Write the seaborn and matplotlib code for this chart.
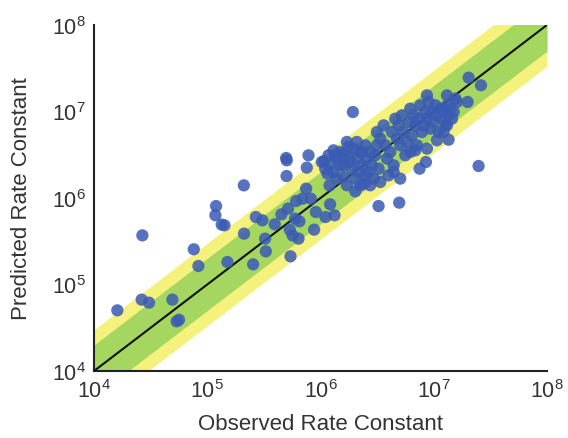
import numpy as np
import pandas as pd
import matplotlib
matplotlib.use("Agg")
import matplotlib.pyplot as plt
import seaborn as sns

# log10 of observed / predicted rate constants
obs_log = [
    4.206, 4.421, 4.486, 4.427, 4.692, 4.730, 4.751, 4.881, 4.922, 5.078,
    5.072, 5.128, 5.152, 5.178, 5.323, 5.325, 5.405, 5.429, 5.487, 5.511,
    5.517, 5.596, 5.655, 5.697, 5.702, 5.700, 5.714, 5.735, 5.729, 5.753,
    5.776, 5.785, 5.806, 5.814, 5.841, 5.879, 5.894, 5.873, 5.915, 5.944,
    5.959, 6.044, 6.085, 6.124, 6.032, 6.062, 6.080,
    # cluster around 1e6 - 3e6
    6.012, 6.042, 6.071, 6.115, 6.145, 6.174, 6.204, 6.233, 6.248, 6.277,
    6.292, 6.307, 6.321, 6.336, 6.351, 6.366, 6.380, 6.395, 6.410, 6.425,
    6.439, 6.454, 6.469, 6.483, 6.498, 6.513, 6.528, 6.115, 6.145, 6.204,
    6.233, 6.307, 6.351, 6.395, 6.263, 6.174, 6.086, 6.130, 6.204, 6.248,
    6.321, 6.366,
    # cluster around 3e6 - 1.5e7
    6.498, 6.528, 6.557, 6.572, 6.587, 6.616, 6.631, 6.646, 6.660, 6.675,
    6.690, 6.704, 6.719, 6.734, 6.749, 6.763, 6.778, 6.793, 6.808, 6.822,
    6.837, 6.852, 6.866, 6.881, 6.896, 6.911, 6.925, 6.940, 6.955, 6.970,
    6.984, 6.999, 7.014, 7.028, 7.043, 7.058, 7.073, 7.087, 7.102, 7.117,
    7.132, 7.146, 7.161, 7.176, 7.191, 7.205, 6.704, 6.601, 6.439, 6.646,
    6.793, 6.837, 6.940, 7.117, 7.087,
    # outliers
    6.286, 6.513, 6.695, 6.875, 6.931, 7.396, 7.308, 7.417, 7.299, 7.131,
    7.028, 7.117, 6.940,
]
pred_log = [
    4.701, 4.825, 4.790, 5.568, 4.825, 4.574, 4.593, 5.407, 5.214, 5.907,
    5.800, 5.692, 5.684, 5.260, 6.146, 5.588, 5.233, 5.780, 5.742, 5.530,
    5.383, 5.696, 5.811, 6.462, 6.435, 6.254, 5.877, 5.326, 5.634, 5.568,
    5.761, 5.965, 5.530, 5.730, 5.992, 6.351, 6.493, 6.108, 5.992, 5.634,
    5.838, 5.780, 5.927, 5.800, 6.428, 6.281, 6.146,
    6.416, 6.339, 6.494, 6.551, 6.455, 6.532, 6.378, 6.648, 6.474, 6.339,
    6.571, 6.224, 6.455, 6.301, 6.532, 6.378, 6.166, 6.609, 6.455, 6.301,
    6.532, 6.378, 6.224, 6.494, 6.609, 6.339, 6.185, 6.301, 6.224, 6.243,
    6.147, 6.077, 6.147, 6.262, 6.416, 6.378, 6.397, 6.494, 6.513, 6.590,
    6.648, 6.532,
    6.763, 6.686, 6.840, 6.609, 6.455, 6.532, 6.763, 6.301, 6.917, 6.686,
    6.840, 6.609, 6.956, 6.763, 6.494, 6.648, 6.879, 7.033, 6.725, 6.956,
    6.840, 6.609, 6.917, 7.072, 6.763, 6.840, 6.995, 6.917, 7.110, 6.802,
    6.995, 6.879, 7.072, 6.956, 6.763, 7.033, 6.917, 6.995, 6.840, 7.072,
    6.956, 7.033, 6.917, 6.995, 7.149, 7.110, 6.224, 6.262, 6.147, 6.378,
    6.532, 6.551, 6.571, 6.840, 6.763,
    6.994, 5.907, 5.946, 6.339, 6.416, 6.370, 7.391, 7.303, 7.110, 6.674,
    6.667, 7.187, 7.187,
]
tick_values = [1e4, 1e5, 1e6, 1e7, 1e8]
axis_limits = (1e4, 1e8)
inner_factor = 2.0   # green band
outer_factor = 3.0   # yellow band

df = pd.DataFrame({
    "Observed Rate Constant": 10 ** np.array(obs_log),
    "Predicted Rate Constant": 10 ** np.array(pred_log),
})

sns.set_theme(style="white")
plt.rcParams["font.family"] = ["Liberation Sans", "DejaVu Sans"]
plt.rcParams["mathtext.default"] = "regular"

fig = plt.figure(figsize=(5.68, 4.39), dpi=100)
ax = fig.add_axes([0.1655, 0.1526, 0.7975, 0.7882])
ax.set_xscale("log")
ax.set_yscale("log")

xs = np.logspace(np.log10(axis_limits[0]), np.log10(axis_limits[1]), 200)
ax.fill_between(xs, xs / outer_factor, xs * outer_factor, color="#f4f27c", lw=0, zorder=1)
ax.fill_between(xs, xs / inner_factor, xs * inner_factor, color="#a5d65f", lw=0, zorder=2)
ax.plot(xs, xs, color="#111111", lw=1.5, zorder=3)

sns.scatterplot(data=df, x="Observed Rate Constant", y="Predicted Rate Constant",
                ax=ax, s=78, color="#3a5bb5", alpha=0.85, edgecolor="none", zorder=4)

ax.set_xlim(*axis_limits)
ax.set_ylim(*axis_limits)
ax.set_xticks(tick_values)
ax.set_yticks(tick_values)
ax.minorticks_off()
ax.tick_params(axis="both", which="major", direction="in", length=5, width=1.3,
               labelsize=15.5, colors="#333333", pad=6)
for side in ["top", "right"]:
    ax.spines[side].set_visible(False)
for side in ["left", "bottom"]:
    ax.spines[side].set_color("#222222")
    ax.spines[side].set_linewidth(1.5)
ax.set_xlabel("Observed Rate Constant", fontsize=16, color="#333333", labelpad=8)
ax.set_ylabel("Predicted Rate Constant", fontsize=16, color="#333333", labelpad=14)

fig.savefig("out.png", dpi=100)
